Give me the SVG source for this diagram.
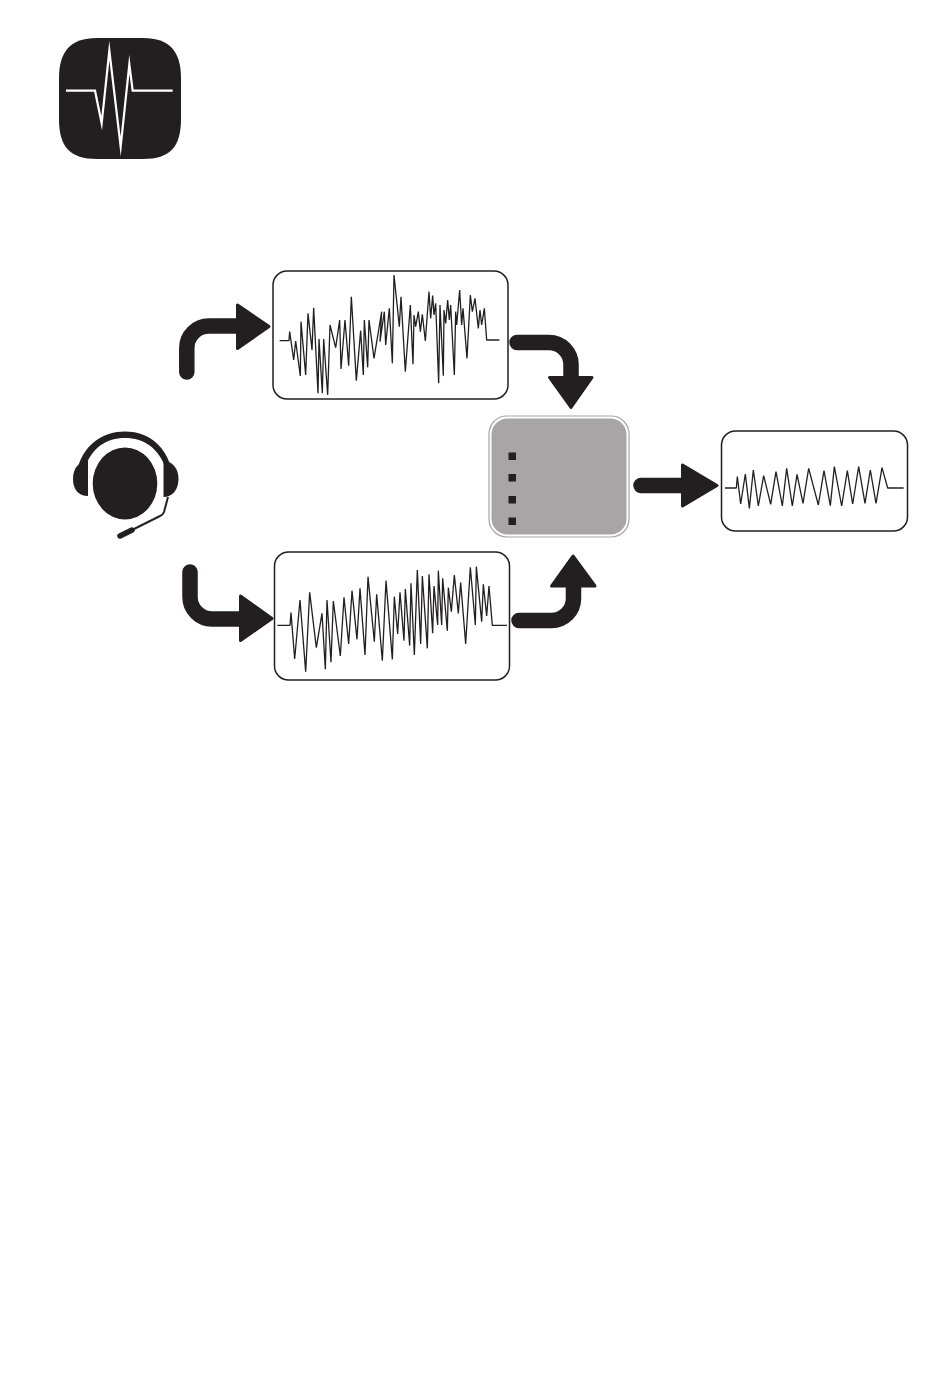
<svg xmlns="http://www.w3.org/2000/svg" width="950" height="1385" viewBox="0 0 950 1385">
<style>
.box{fill:#fff;stroke:#231f20;stroke-width:1.5}
.wave{fill:none;stroke:#231f20;stroke-width:1.3;stroke-linejoin:bevel;vector-effect:non-scaling-stroke}
.shaft{fill:none;stroke:#231f20;stroke-width:15.500;stroke-linecap:round}
.head{fill:#231f20;stroke:#231f20;stroke-width:3;stroke-linejoin:round}
.dark{fill:#231f20}
</style>
<rect width="950" height="1385" fill="#fff"/>
<g id="logo">
<path class="dark" d="M97 38H143C170 38 181 52 181 78V119C181 147 170 159 143 159H97C70 159 59 147 59 119V78C59 52 70 38 97 38Z"/>
<polyline transform="translate(50 30) scale(.33333)" points="48,182 135,182 155,280 178,62 212,350 238,103 248,182 368,182" fill="none" stroke="#fff" stroke-width="2.200" stroke-miterlimit="30" style="vector-effect:non-scaling-stroke"/>
</g>
<g id="headset">
<ellipse class="dark" cx="125" cy="483.500" rx="32.300" ry="36"/>
<path class="dark" d="M79 464C86 444 103 431.500 125 431.500C147 431.500 163 444 170 464L164 464C157 448 144 438 125 438C106 438 93 448 86.500 464Z"/>
<path class="dark" d="M88 461V496C79 496 73 490 73 479C73 468 79 461 88 461Z"/>
<path class="dark" d="M163.500 461V497C172 497 178.500 490 178.500 479C178.500 468 172 461 163.500 461Z"/>
<path d="M168 497L164 512Q163 515 160 516L124 534" fill="none" stroke="#231f20" stroke-width="2"/>
<path d="M120 536L132 530" fill="none" stroke="#231f20" stroke-width="5.500" stroke-linecap="round"/>
</g>
<g id="signal-top">
<rect class="box" x="273" y="271" width="235" height="128" rx="14"/>
<polyline class="wave" transform="translate(265 265) scale(.33333)" points="44,227 72,227 74,200 86,285 92,228 106,333 108,170 122,330 129,145 141,255 146,128 159,385 162,222 172,385 176,222 188,390 195,180 212,248 224,165 228,312 240,165 251,302 259,95 274,347 287,197 295,330 298,165 308,307 312,165 327,280 350,140 345,230 358,140 362,240 373,130 382,295 387,30 403,185 408,95 421,320 436,120 444,298 447,150 452,185 460,140 466,200 472,148 481,228 492,80 497,160 503,92 507,150 512,115 521,355 525,120 535,332 537,135 542,175 548,105 553,165 557,120 568,330 572,140 575,180 584,75 590,180 594,130 606,280 616,90 622,140 630,100 640,190 645,135 650,180 658,130 665,225 703,225"/>
</g>
<g id="signal-bottom">
<rect class="box" x="274.500" y="552" width="235" height="128" rx="14"/>
<polyline class="wave" transform="translate(265 545) scale(.33333)" points="37,241 75,241 78,203 89,342 105,165 122,380 134,142 154,308 171,205 181,373 186,165 198,352 205,168 226,333 237,157 251,297 261,137 276,283 285,130 300,330 309,95 328,290 335,148 352,347 363,107 382,343 388,155 398,267 405,142 417,287 421,132 434,302 438,115 448,330 457,75 467,297 472,93 487,310 492,88 503,265 507,123 518,240 520,77 530,240 533,100 547,257 550,128 559,200 568,90 580,205 587,113 602,297 616,67 631,240 634,65 650,230 655,118 665,213 672,123 682,241 726,241"/>
</g>
<g id="processor">
<rect x="489" y="416" width="140" height="121" rx="18" fill="#fff" stroke="#a7a5a6" stroke-width="1.200"/>
<rect x="491.500" y="418.500" width="135" height="116" rx="16" fill="#a7a5a6"/>
<rect class="dark" x="508.500" y="452.500" width="7.500" height="7.500"/>
<rect class="dark" x="508.500" y="474" width="7.500" height="7.500"/>
<rect class="dark" x="508.500" y="496" width="7.500" height="7.500"/>
<rect class="dark" x="508.500" y="517.500" width="7.500" height="7.500"/>
</g>
<g id="signal-output">
<rect class="box" x="721.500" y="431" width="186" height="100" rx="14"/>
<polyline class="wave" transform="translate(715 425) scale(.33333)" points="30,189 64,189 67,155 77,237 91,147 103,250 115,135 130,243 146,152 167,238 183,140 202,243 215,130 232,243 246,148 264,235 281,130 310,240 327,137 346,242 358,125 380,243 397,137 413,237 431,125 450,235 466,135 483,235 501,128 518,189 566,189"/>
</g>
<g id="connectors">
<path class="shaft" d="M186.800 372V348A22 22 0 0 1 208.800 326H238"/>
<path class="head" d="M237.500 305V348.500L269 326.500Z"/>
<path class="shaft" d="M190 572V597A22 22 0 0 0 212 619H242"/>
<path class="head" d="M240.500 596V640.500L272 618.500Z"/>
<path class="shaft" d="M517 342.500H549A22 22 0 0 1 571 364.500V378"/>
<path class="head" d="M549.500 377.500H592L571 407.500Z"/>
<path class="shaft" d="M519 620.500H551.500A22 22 0 0 0 573.500 598.500V586"/>
<path class="head" d="M551.500 586H595L573 556Z"/>
<path class="shaft" d="M641 485.500H684"/>
<path class="head" d="M682.500 465V506L717 485.500Z"/>
</g>
</svg>
